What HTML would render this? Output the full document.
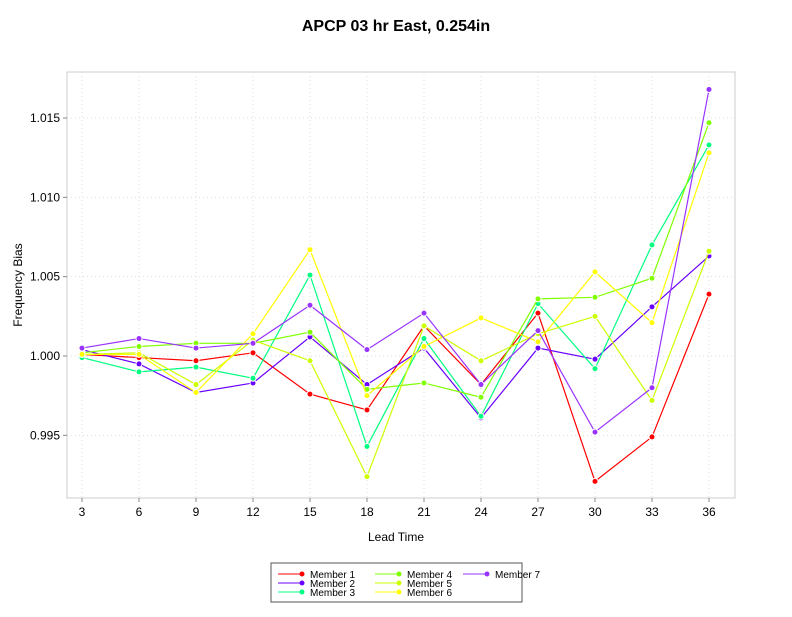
<!DOCTYPE html>
<html><head><meta charset="utf-8"><style>
body{margin:0;background:#fff;font-family:"Liberation Sans",sans-serif;}
svg text{font-family:"Liberation Sans",sans-serif;}
</style></head><body>
<svg id="chart" width="792" height="612" xmlns="http://www.w3.org/2000/svg">
<rect width="792" height="612" fill="#fff"/>
<text x="396" y="31" text-anchor="middle" font-size="16" font-weight="bold">APCP 03 hr East, 0.254in</text>
<rect x="67" y="72" width="668" height="426" fill="none" stroke="#ccc"/>
<g id="grid"></g><g id="axes"></g><g id="series"></g>
<text x="396" y="541" text-anchor="middle" font-size="12">Lead Time</text>
<text transform="translate(22,285) rotate(-90)" text-anchor="middle" font-size="12">Frequency Bias</text>
<rect x="271" y="563" width="251" height="39" fill="#fff" stroke="#555"/>
<g id="legend"></g>
</svg>
<script>
const leadTimes=[3,6,9,12,15,18,21,24,27,30,33,36];
const yTicks=[0.995,1.000,1.005,1.010,1.015];
const seriesNames=["Member 1","Member 2","Member 3","Member 4","Member 5","Member 6","Member 7"];
const seriesColors=["#ff0000","#6a00ff","#00ff80","#80ff00","#ccff00","#ffff00","#9933ff"];
const member1=[1.0001,0.9999,0.9997,1.0002,0.9976,0.9966,1.0019,0.9982,1.0027,0.9921,0.9949,1.0039];
const member2=[1.0004,0.9995,0.9977,0.9983,1.0012,0.9982,1.0005,0.9961,1.0005,0.9998,1.0031,1.0063];
const member3=[0.9999,0.9990,0.9993,0.9986,1.0051,0.9943,1.0011,0.9962,1.0033,0.9992,1.0070,1.0133];
const member4=[1.0002,1.0006,1.0008,1.0008,1.0015,0.9979,0.9983,0.9974,1.0036,1.0037,1.0049,1.0147];
const member5=[1.0001,1.0002,0.9982,1.0010,0.9997,0.9924,1.0019,0.9997,1.0014,1.0025,0.9972,1.0066];
const member6=[1.0001,1.0001,0.9977,1.0014,1.0067,0.9975,1.0006,1.0024,1.0009,1.0053,1.0021,1.0128];
const member7=[1.0005,1.0011,1.0005,1.0008,1.0032,1.0004,1.0027,0.9982,1.0016,0.9952,0.9980,1.0168];
const allSeries=[member1,member2,member3,member4,member5,member6,member7];
const NS="http://www.w3.org/2000/svg";
function xScale(i){return 82+i*(709-82)/(leadTimes.length-1);}
function yScale(v){return 356-(v-1.0)*(356-118)/0.015;}
function mk(t,a,p){const e=document.createElementNS(NS,t);for(const k in a)e.setAttribute(k,a[k]);p.appendChild(e);return e;}
const grid=document.getElementById('grid'),axes=document.getElementById('axes'),ser=document.getElementById('series'),leg=document.getElementById('legend');
leadTimes.forEach((t,i)=>{const x=xScale(i);
 const g=mk('line',{x1:x,x2:x,y1:72,y2:498,stroke:'#ddd','stroke-dasharray':'1,3'},grid);
 
 
 const tk=mk('line',{x1:x,x2:x,y1:498,y2:502,stroke:'#888'},axes);
 
 
 const tx=mk('text',{x:x,y:516,'text-anchor':'middle','font-size':'12'},axes);tx.textContent=t;
 
 
});
yTicks.forEach(v=>{const y=yScale(v);
 const g=mk('line',{x1:67,x2:735,y1:y,y2:y,stroke:'#ddd','stroke-dasharray':'1,3'},grid);
 
 
 const tk=mk('line',{x1:63,x2:67,y1:y,y2:y,stroke:'#888'},axes);
 
 
 const tx=mk('text',{x:60,y:y+4,'text-anchor':'end','font-size':'12'},axes);tx.textContent=v.toFixed(3);
 
 
});
allSeries.forEach((vals,s)=>{const c=seriesColors[s];
 const g=mk('g',{},ser);
 
 
 const pts=vals.map((v,i)=>xScale(i)+','+yScale(v)).join(' ');
 const pl=mk('polyline',{points:pts,fill:'none',stroke:c,'stroke-width':'1.2'},g);
 
 
 vals.forEach((v,i)=>{const p=mk('circle',{cx:xScale(i),cy:yScale(v),r:3,fill:c,stroke:'#fff','stroke-width':'1'},g);
  
  
 });
});
const legPos=[[278,574],[278,583],[278,592],[375,574],[375,583],[375,592],[463,574]];
seriesNames.forEach((n,s)=>{const [x,y]=legPos[s];
 const g=mk('g',{},leg);
 
 
 mk('line',{x1:x,x2:x+25,y1:y,y2:y,stroke:seriesColors[s]},g);
 mk('circle',{cx:x+24,cy:y,r:2.5,fill:seriesColors[s]},g);
 const t=mk('text',{x:x+32,y:y+4,'font-size':'10'},g);t.textContent=n;
});
</script>
</body></html>
